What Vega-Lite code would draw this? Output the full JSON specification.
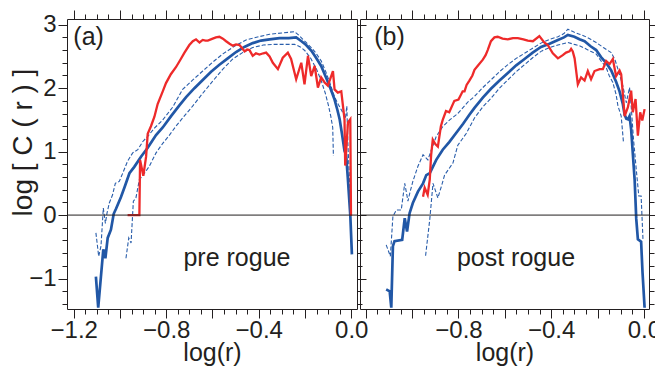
{
  "$schema": "https://vega.github.io/schema/vega-lite/v6.json",
  "background": "white",
  "padding": {"left": 8, "top": 9, "right": 0, "bottom": 0},
  "bounds": "flush",
  "spacing": 3,
  "config": {
    "font": "Liberation Sans",
    "view": {"stroke": "#231f20", "strokeWidth": 1},
    "axis": {"domain": false, "grid": false, "labelFont": "Liberation Sans", "labelFontSize": 24, "labelColor": "#231f20", "tickColor": "#231f20", "tickWidth": 1, "titleFont": "Liberation Sans", "titleFontSize": 25, "titleFontWeight": "normal", "titleColor": "#231f20", "labelOverlap": false, "labelFlush": false, "labelPadding": 2}
  },
  "datasets": {
    "a": [
      {"s":"lo","x":-0.974,"y":-0.68},{"s":"lo","x":-0.962,"y":-0.36},{"s":"lo","x":-0.952,"y":-0.44},{"s":"lo","x":-0.942,"y":0.22},{"s":"lo","x":-0.931,"y":0.27},{"s":"lo","x":-0.916,"y":0.56},{"s":"lo","x":-0.894,"y":0.66},{"s":"lo","x":-0.873,"y":0.77},{"s":"lo","x":-0.844,"y":0.98},{"s":"lo","x":-0.815,"y":1.13},{"s":"lo","x":-0.786,"y":1.26},{"s":"lo","x":-0.758,"y":1.4},{"s":"lo","x":-0.729,"y":1.53},{"s":"lo","x":-0.685,"y":1.72},{"s":"lo","x":-0.642,"y":1.92},{"s":"lo","x":-0.599,"y":2.11},{"s":"lo","x":-0.555,"y":2.3},{"s":"lo","x":-0.512,"y":2.46},{"s":"lo","x":-0.47,"y":2.56},{"s":"lo","x":-0.426,"y":2.64},{"s":"lo","x":-0.38,"y":2.68},{"s":"lo","x":-0.339,"y":2.69},{"s":"lo","x":-0.29,"y":2.69},{"s":"lo","x":-0.245,"y":2.69},{"s":"lo","x":-0.22,"y":2.65},{"s":"lo","x":-0.2,"y":2.59},{"s":"lo","x":-0.175,"y":2.47},{"s":"lo","x":-0.15,"y":2.3},{"s":"lo","x":-0.13,"y":2.12},{"s":"lo","x":-0.112,"y":1.92},{"s":"lo","x":-0.098,"y":1.72},{"s":"lo","x":-0.088,"y":1.55},{"s":"lo","x":-0.08,"y":1.38},{"s":"lo","x":-0.077,"y":0.93},
      {"s":"hi","x":-1.104,"y":-0.28},{"s":"hi","x":-1.092,"y":-0.65},{"s":"hi","x":-1.082,"y":-0.49},{"s":"hi","x":-1.072,"y":0.11},{"s":"hi","x":-1.063,"y":-0.13},{"s":"hi","x":-1.056,"y":0.03},{"s":"hi","x":-1.046,"y":0.19},{"s":"hi","x":-1.032,"y":0.32},{"s":"hi","x":-1.02,"y":0.5},{"s":"hi","x":-1.003,"y":0.53},{"s":"hi","x":-0.988,"y":0.66},{"s":"hi","x":-0.967,"y":0.85},{"s":"hi","x":-0.945,"y":0.98},{"s":"hi","x":-0.923,"y":1.03},{"s":"hi","x":-0.901,"y":1.16},{"s":"hi","x":-0.88,"y":1.24},{"s":"hi","x":-0.851,"y":1.37},{"s":"hi","x":-0.815,"y":1.5},{"s":"hi","x":-0.772,"y":1.7},{"s":"hi","x":-0.729,"y":1.98},{"s":"hi","x":-0.685,"y":2.13},{"s":"hi","x":-0.642,"y":2.27},{"s":"hi","x":-0.599,"y":2.41},{"s":"hi","x":-0.555,"y":2.54},{"s":"hi","x":-0.505,"y":2.66},{"s":"hi","x":-0.455,"y":2.76},{"s":"hi","x":-0.4,"y":2.81},{"s":"hi","x":-0.353,"y":2.85},{"s":"hi","x":-0.3,"y":2.87},{"s":"hi","x":-0.245,"y":2.89},{"s":"hi","x":-0.225,"y":2.83},{"s":"hi","x":-0.209,"y":2.77},{"s":"hi","x":-0.195,"y":2.72},{"s":"hi","x":-0.17,"y":2.63},{"s":"hi","x":-0.152,"y":2.55},{"s":"hi","x":-0.13,"y":2.43},{"s":"hi","x":-0.11,"y":2.26},{"s":"hi","x":-0.091,"y":2.07},{"s":"hi","x":-0.072,"y":1.86},{"s":"hi","x":-0.055,"y":1.74},{"s":"hi","x":-0.04,"y":1.64},{"s":"hi","x":-0.025,"y":1.52},{"s":"hi","x":-0.019,"y":1.72},{"s":"hi","x":-0.014,"y":1.09},{"s":"hi","x":-0.008,"y":0.6},{"s":"hi","x":-0.002,"y":0.0},
      {"s":"m","x":-1.104,"y":-0.97},{"s":"m","x":-1.094,"y":-1.46},{"s":"m","x":-1.072,"y":-0.54},{"s":"m","x":-1.063,"y":-0.68},{"s":"m","x":-1.053,"y":-0.36},{"s":"m","x":-1.039,"y":-0.23},{"s":"m","x":-1.027,"y":0.02},{"s":"m","x":-1.017,"y":0.1},{"s":"m","x":-0.996,"y":0.28},{"s":"m","x":-0.981,"y":0.43},{"s":"m","x":-0.959,"y":0.66},{"s":"m","x":-0.938,"y":0.76},{"s":"m","x":-0.909,"y":0.92},{"s":"m","x":-0.88,"y":1.06},{"s":"m","x":-0.844,"y":1.26},{"s":"m","x":-0.815,"y":1.38},{"s":"m","x":-0.779,"y":1.56},{"s":"m","x":-0.743,"y":1.73},{"s":"m","x":-0.714,"y":1.86},{"s":"m","x":-0.678,"y":2.0},{"s":"m","x":-0.642,"y":2.13},{"s":"m","x":-0.606,"y":2.26},{"s":"m","x":-0.57,"y":2.37},{"s":"m","x":-0.534,"y":2.47},{"s":"m","x":-0.498,"y":2.57},{"s":"m","x":-0.462,"y":2.65},{"s":"m","x":-0.426,"y":2.71},{"s":"m","x":-0.39,"y":2.75},{"s":"m","x":-0.353,"y":2.77},{"s":"m","x":-0.31,"y":2.79},{"s":"m","x":-0.27,"y":2.79},{"s":"m","x":-0.238,"y":2.8},{"s":"m","x":-0.215,"y":2.74},{"s":"m","x":-0.195,"y":2.68},{"s":"m","x":-0.172,"y":2.59},{"s":"m","x":-0.152,"y":2.48},{"s":"m","x":-0.13,"y":2.35},{"s":"m","x":-0.108,"y":2.16},{"s":"m","x":-0.09,"y":2.0},{"s":"m","x":-0.072,"y":1.82},{"s":"m","x":-0.06,"y":1.66},{"s":"m","x":-0.05,"y":1.51},{"s":"m","x":-0.04,"y":1.28},{"s":"m","x":-0.029,"y":1.01},{"s":"m","x":-0.022,"y":0.95},{"s":"m","x":-0.015,"y":0.6},{"s":"m","x":-0.004,"y":0.0},{"s":"m","x":0.003,"y":-0.62},
      {"s":"r","x":-0.967,"y":0.0},{"s":"r","x":-0.916,"y":0.0},{"s":"r","x":-0.913,"y":0.87},{"s":"r","x":-0.899,"y":0.62},{"s":"r","x":-0.887,"y":0.92},{"s":"r","x":-0.88,"y":1.28},{"s":"r","x":-0.866,"y":1.4},{"s":"r","x":-0.851,"y":1.55},{"s":"r","x":-0.837,"y":1.75},{"s":"r","x":-0.815,"y":1.95},{"s":"r","x":-0.801,"y":2.08},{"s":"r","x":-0.78,"y":2.22},{"s":"r","x":-0.758,"y":2.33},{"s":"r","x":-0.74,"y":2.44},{"s":"r","x":-0.721,"y":2.56},{"s":"r","x":-0.7,"y":2.68},{"s":"r","x":-0.685,"y":2.74},{"s":"r","x":-0.671,"y":2.77},{"s":"r","x":-0.656,"y":2.72},{"s":"r","x":-0.642,"y":2.76},{"s":"r","x":-0.63,"y":2.75},{"s":"r","x":-0.62,"y":2.75},{"s":"r","x":-0.599,"y":2.78},{"s":"r","x":-0.585,"y":2.8},{"s":"r","x":-0.57,"y":2.81},{"s":"r","x":-0.555,"y":2.78},{"s":"r","x":-0.541,"y":2.74},{"s":"r","x":-0.526,"y":2.7},{"s":"r","x":-0.512,"y":2.67},{"s":"r","x":-0.498,"y":2.69},{"s":"r","x":-0.483,"y":2.68},{"s":"r","x":-0.47,"y":2.62},{"s":"r","x":-0.461,"y":2.58},{"s":"r","x":-0.45,"y":2.61},{"s":"r","x":-0.44,"y":2.6},{"s":"r","x":-0.426,"y":2.51},{"s":"r","x":-0.412,"y":2.55},{"s":"r","x":-0.397,"y":2.53},{"s":"r","x":-0.38,"y":2.55},{"s":"r","x":-0.368,"y":2.56},{"s":"r","x":-0.353,"y":2.5},{"s":"r","x":-0.339,"y":2.4},{"s":"r","x":-0.317,"y":2.3},{"s":"r","x":-0.296,"y":2.48},{"s":"r","x":-0.274,"y":2.56},{"s":"r","x":-0.26,"y":2.46},{"s":"r","x":-0.238,"y":2.14},{"s":"r","x":-0.216,"y":2.4},{"s":"r","x":-0.202,"y":2.06},{"s":"r","x":-0.187,"y":2.51},{"s":"r","x":-0.173,"y":2.19},{"s":"r","x":-0.158,"y":2.35},{"s":"r","x":-0.144,"y":2.01},{"s":"r","x":-0.13,"y":2.17},{"s":"r","x":-0.115,"y":2.09},{"s":"r","x":-0.101,"y":2.04},{"s":"r","x":-0.079,"y":2.27},{"s":"r","x":-0.072,"y":1.98},{"s":"r","x":-0.058,"y":1.93},{"s":"r","x":-0.043,"y":1.95},{"s":"r","x":-0.029,"y":1.51},{"s":"r","x":-0.026,"y":0.78},{"s":"r","x":-0.014,"y":1.46},{"s":"r","x":-0.004,"y":1.51},{"s":"r","x":-0.001,"y":-0.01}
    ],
    "b": [
      {"s":"lo","x":-0.942,"y":-0.64},{"s":"lo","x":-0.924,"y":-0.07},{"s":"lo","x":-0.91,"y":0.5},{"s":"lo","x":-0.889,"y":0.27},{"s":"lo","x":-0.874,"y":0.45},{"s":"lo","x":-0.86,"y":0.63},{"s":"lo","x":-0.845,"y":0.71},{"s":"lo","x":-0.824,"y":0.82},{"s":"lo","x":-0.803,"y":1.1},{"s":"lo","x":-0.766,"y":1.29},{"s":"lo","x":-0.731,"y":1.53},{"s":"lo","x":-0.694,"y":1.71},{"s":"lo","x":-0.66,"y":1.84},{"s":"lo","x":-0.623,"y":2.0},{"s":"lo","x":-0.587,"y":2.13},{"s":"lo","x":-0.551,"y":2.26},{"s":"lo","x":-0.515,"y":2.37},{"s":"lo","x":-0.48,"y":2.48},{"s":"lo","x":-0.444,"y":2.58},{"s":"lo","x":-0.407,"y":2.64},{"s":"lo","x":-0.371,"y":2.68},{"s":"lo","x":-0.328,"y":2.72},{"s":"lo","x":-0.3,"y":2.69},{"s":"lo","x":-0.278,"y":2.67},{"s":"lo","x":-0.256,"y":2.63},{"s":"lo","x":-0.23,"y":2.58},{"s":"lo","x":-0.206,"y":2.54},{"s":"lo","x":-0.185,"y":2.43},{"s":"lo","x":-0.163,"y":2.33},{"s":"lo","x":-0.15,"y":2.2},{"s":"lo","x":-0.134,"y":2.09},{"s":"lo","x":-0.12,"y":1.9},{"s":"lo","x":-0.112,"y":1.72},{"s":"lo","x":-0.098,"y":1.56},{"s":"lo","x":-0.088,"y":1.14},
      {"s":"hi","x":-1.112,"y":-0.47},{"s":"hi","x":-1.094,"y":-0.65},{"s":"hi","x":-1.083,"y":-0.02},{"s":"hi","x":-1.068,"y":0.08},{"s":"hi","x":-1.047,"y":0.08},{"s":"hi","x":-1.032,"y":0.5},{"s":"hi","x":-1.018,"y":0.22},{"s":"hi","x":-1.01,"y":0.35},{"s":"hi","x":-0.997,"y":0.53},{"s":"hi","x":-0.975,"y":0.77},{"s":"hi","x":-0.953,"y":0.95},{"s":"hi","x":-0.932,"y":0.87},{"s":"hi","x":-0.917,"y":1.03},{"s":"hi","x":-0.896,"y":1.24},{"s":"hi","x":-0.867,"y":1.4},{"s":"hi","x":-0.838,"y":1.5},{"s":"hi","x":-0.803,"y":1.6},{"s":"hi","x":-0.76,"y":1.78},{"s":"hi","x":-0.731,"y":1.87},{"s":"hi","x":-0.695,"y":2.01},{"s":"hi","x":-0.66,"y":2.13},{"s":"hi","x":-0.623,"y":2.26},{"s":"hi","x":-0.587,"y":2.37},{"s":"hi","x":-0.551,"y":2.47},{"s":"hi","x":-0.515,"y":2.55},{"s":"hi","x":-0.48,"y":2.63},{"s":"hi","x":-0.444,"y":2.71},{"s":"hi","x":-0.407,"y":2.77},{"s":"hi","x":-0.371,"y":2.81},{"s":"hi","x":-0.345,"y":2.86},{"s":"hi","x":-0.328,"y":2.93},{"s":"hi","x":-0.3,"y":2.88},{"s":"hi","x":-0.278,"y":2.85},{"s":"hi","x":-0.256,"y":2.82},{"s":"hi","x":-0.23,"y":2.77},{"s":"hi","x":-0.206,"y":2.72},{"s":"hi","x":-0.175,"y":2.64},{"s":"hi","x":-0.141,"y":2.56},{"s":"hi","x":-0.125,"y":2.45},{"s":"hi","x":-0.112,"y":2.3},{"s":"hi","x":-0.091,"y":2.04},{"s":"hi","x":-0.076,"y":1.77},{"s":"hi","x":-0.062,"y":2.01},{"s":"hi","x":-0.055,"y":1.72},{"s":"hi","x":-0.045,"y":1.2},{"s":"hi","x":-0.033,"y":0.72},{"s":"hi","x":-0.022,"y":0.3},{"s":"hi","x":-0.012,"y":0.3},{"s":"hi","x":-0.004,"y":-0.38},
      {"s":"m","x":-1.112,"y":-1.17},{"s":"m","x":-1.097,"y":-1.2},{"s":"m","x":-1.09,"y":-1.46},{"s":"m","x":-1.083,"y":-0.49},{"s":"m","x":-1.076,"y":-0.41},{"s":"m","x":-1.043,"y":-0.39},{"s":"m","x":-1.032,"y":-0.05},{"s":"m","x":-1.022,"y":-0.26},{"s":"m","x":-1.011,"y":0.03},{"s":"m","x":-0.997,"y":0.19},{"s":"m","x":-0.975,"y":0.37},{"s":"m","x":-0.953,"y":0.5},{"s":"m","x":-0.939,"y":0.63},{"s":"m","x":-0.924,"y":0.66},{"s":"m","x":-0.896,"y":0.87},{"s":"m","x":-0.868,"y":1.03},{"s":"m","x":-0.84,"y":1.15},{"s":"m","x":-0.811,"y":1.29},{"s":"m","x":-0.78,"y":1.44},{"s":"m","x":-0.753,"y":1.58},{"s":"m","x":-0.731,"y":1.69},{"s":"m","x":-0.695,"y":1.85},{"s":"m","x":-0.66,"y":1.99},{"s":"m","x":-0.623,"y":2.12},{"s":"m","x":-0.587,"y":2.24},{"s":"m","x":-0.551,"y":2.36},{"s":"m","x":-0.515,"y":2.46},{"s":"m","x":-0.48,"y":2.56},{"s":"m","x":-0.444,"y":2.65},{"s":"m","x":-0.407,"y":2.7},{"s":"m","x":-0.371,"y":2.76},{"s":"m","x":-0.345,"y":2.8},{"s":"m","x":-0.328,"y":2.84},{"s":"m","x":-0.3,"y":2.81},{"s":"m","x":-0.278,"y":2.77},{"s":"m","x":-0.256,"y":2.74},{"s":"m","x":-0.23,"y":2.66},{"s":"m","x":-0.206,"y":2.6},{"s":"m","x":-0.185,"y":2.49},{"s":"m","x":-0.163,"y":2.4},{"s":"m","x":-0.141,"y":2.28},{"s":"m","x":-0.12,"y":2.1},{"s":"m","x":-0.105,"y":1.95},{"s":"m","x":-0.091,"y":1.75},{"s":"m","x":-0.083,"y":1.58},{"s":"m","x":-0.076,"y":1.52},{"s":"m","x":-0.069,"y":1.51},{"s":"m","x":-0.062,"y":1.56},{"s":"m","x":-0.055,"y":1.35},{"s":"m","x":-0.048,"y":0.98},{"s":"m","x":-0.04,"y":0.56},{"s":"m","x":-0.033,"y":-0.06},{"s":"m","x":-0.026,"y":-0.38},{"s":"m","x":-0.012,"y":-0.42},{"s":"m","x":-0.006,"y":-0.9},{"s":"m","x":0.003,"y":-1.46},
      {"s":"r","x":-0.953,"y":0.29},{"s":"r","x":-0.946,"y":0.43},{"s":"r","x":-0.933,"y":0.32},{"s":"r","x":-0.924,"y":0.56},{"s":"r","x":-0.918,"y":0.95},{"s":"r","x":-0.911,"y":1.19},{"s":"r","x":-0.9,"y":1.12},{"s":"r","x":-0.889,"y":1.08},{"s":"r","x":-0.876,"y":1.4},{"s":"r","x":-0.868,"y":1.5},{"s":"r","x":-0.854,"y":1.64},{"s":"r","x":-0.84,"y":1.62},{"s":"r","x":-0.818,"y":1.8},{"s":"r","x":-0.8,"y":1.82},{"s":"r","x":-0.782,"y":1.95},{"s":"r","x":-0.774,"y":1.95},{"s":"r","x":-0.765,"y":2.05},{"s":"r","x":-0.753,"y":2.12},{"s":"r","x":-0.74,"y":2.2},{"s":"r","x":-0.731,"y":2.29},{"s":"r","x":-0.715,"y":2.36},{"s":"r","x":-0.695,"y":2.45},{"s":"r","x":-0.683,"y":2.52},{"s":"r","x":-0.674,"y":2.6},{"s":"r","x":-0.66,"y":2.74},{"s":"r","x":-0.645,"y":2.8},{"s":"r","x":-0.631,"y":2.81},{"s":"r","x":-0.61,"y":2.78},{"s":"r","x":-0.587,"y":2.77},{"s":"r","x":-0.565,"y":2.79},{"s":"r","x":-0.544,"y":2.79},{"s":"r","x":-0.52,"y":2.77},{"s":"r","x":-0.501,"y":2.75},{"s":"r","x":-0.479,"y":2.74},{"s":"r","x":-0.451,"y":2.82},{"s":"r","x":-0.43,"y":2.72},{"s":"r","x":-0.415,"y":2.68},{"s":"r","x":-0.393,"y":2.55},{"s":"r","x":-0.371,"y":2.47},{"s":"r","x":-0.35,"y":2.52},{"s":"r","x":-0.336,"y":2.56},{"s":"r","x":-0.321,"y":2.58},{"s":"r","x":-0.314,"y":2.62},{"s":"r","x":-0.307,"y":2.58},{"s":"r","x":-0.299,"y":2.47},{"s":"r","x":-0.285,"y":2.06},{"s":"r","x":-0.271,"y":2.17},{"s":"r","x":-0.256,"y":2.12},{"s":"r","x":-0.242,"y":2.27},{"s":"r","x":-0.228,"y":2.14},{"s":"r","x":-0.213,"y":2.27},{"s":"r","x":-0.191,"y":2.3},{"s":"r","x":-0.177,"y":2.3},{"s":"r","x":-0.163,"y":2.43},{"s":"r","x":-0.148,"y":2.38},{"s":"r","x":-0.134,"y":2.46},{"s":"r","x":-0.12,"y":2.19},{"s":"r","x":-0.105,"y":2.28},{"s":"r","x":-0.098,"y":2.22},{"s":"r","x":-0.083,"y":1.56},{"s":"r","x":-0.069,"y":1.7},{"s":"r","x":-0.055,"y":1.96},{"s":"r","x":-0.048,"y":1.62},{"s":"r","x":-0.036,"y":1.83},{"s":"r","x":-0.026,"y":1.25},{"s":"r","x":-0.016,"y":1.62},{"s":"r","x":-0.007,"y":1.49},{"s":"r","x":0.003,"y":1.67}
    ],
    "ta": [{"x":-1.1355,"y":2.68,"t":"(a)"},{"x":-0.494,"y":-0.81,"t":"pre rogue"}],
    "tb": [{"x":-1.098,"y":2.68,"t":"(b)"},{"x":-0.552,"y":-0.81,"t":"post rogue"}],
    "za": [{"x0":-1.229,"x1":0.025,"z":0}],
    "zb": [{"x0":-1.225,"x1":0.022,"z":0}]
  },
  "hconcat": [
    {
      "width": 290, "height": 290,
      "data": {"name": "a"},
      "resolve": {"axis": {"x": "independent", "y": "independent"}},
      "layer": [
        {
          "transform": [{"filter": "datum.s == 'lo'"}],
          "mark": {"type": "line", "clip": true, "color": "#2a5eab", "strokeWidth": 1.1, "strokeDash": [4, 2]},
          "encoding": {
            "x": {"field": "x", "type": "quantitative", "scale": {"domain": [-1.229, 0.025], "nice": false, "zero": false},
              "axis": {"orient": "bottom", "title": "log(r)", "titlePadding": -2, "labelPadding": 0,
                "values": [-1.2,-1.15,-1.1,-1.05,-1.0,-0.95,-0.9,-0.85,-0.8,-0.75,-0.7,-0.65,-0.6,-0.55,-0.5,-0.45,-0.4,-0.35,-0.3,-0.25,-0.2,-0.15,-0.1,-0.05,0],
                "labelExpr": "abs(round(datum.value*20)) % 8 == 0 ? format(datum.value, '.1f') : ''",
                "tickSize": {"condition": {"test": "abs(round(datum.value*20)) % 4 == 0", "value": 9}, "value": 5}}},
            "y": {"field": "y", "type": "quantitative", "scale": {"domain": [-1.48, 3.09], "nice": false, "zero": false},
              "axis": {"orient": "left", "title": "log [ C ( r ) ]", "titleFontSize": 28, "titleX": -44, "titleY": 123, "titleAngle": -90, "titleAlign": "center", "titleBaseline": "middle",
                "values": [-1.4,-1.2,-1.0,-0.8,-0.6,-0.4,-0.2,0,0.2,0.4,0.6,0.8,1.0,1.2,1.4,1.6,1.8,2.0,2.2,2.4,2.6,2.8,3.0],
                "labelExpr": "abs(round(datum.value*5)) % 5 == 0 ? format(datum.value, 'd') : ''",
                "tickSize": {"condition": {"test": "abs(round(datum.value*5)) % 5 == 0", "value": 9}, "value": 5}}}
          }
        },
        {
          "transform": [{"filter": "datum.s == 'hi'"}],
          "mark": {"type": "line", "clip": true, "color": "#2a5eab", "strokeWidth": 1.1, "strokeDash": [4, 2]},
          "encoding": {
            "x": {"field": "x", "type": "quantitative", "scale": {"domain": [-1.229, 0.025], "nice": false, "zero": false}, "axis": null},
            "y": {"field": "y", "type": "quantitative", "scale": {"domain": [-1.48, 3.09], "nice": false, "zero": false}, "axis": null}
          }
        },
        {
          "transform": [{"filter": "datum.s == 'm'"}],
          "mark": {"type": "line", "clip": true, "color": "#2157a6", "strokeWidth": 2.7},
          "encoding": {
            "x": {"field": "x", "type": "quantitative", "scale": {"domain": [-1.229, 0.025], "nice": false, "zero": false}, "axis": null},
            "y": {"field": "y", "type": "quantitative", "scale": {"domain": [-1.48, 3.09], "nice": false, "zero": false}, "axis": null}
          }
        },
        {
          "transform": [{"filter": "datum.s == 'r'"}],
          "mark": {"type": "line", "clip": true, "color": "#ee2a2a", "strokeWidth": 2.3},
          "encoding": {
            "x": {"field": "x", "type": "quantitative", "scale": {"domain": [-1.229, 0.025], "nice": false, "zero": false}, "axis": null},
            "y": {"field": "y", "type": "quantitative", "scale": {"domain": [-1.48, 3.09], "nice": false, "zero": false}, "axis": null}
          }
        },
        {
          "data": {"name": "za"},
          "mark": {"type": "rule", "color": "#231f20", "strokeWidth": 1},
          "encoding": {
            "x": {"field": "x0", "type": "quantitative", "scale": {"domain": [-1.229, 0.025], "nice": false, "zero": false},
              "axis": {"orient": "top", "title": null, "labels": false, "ticks": true, "zindex": 2, "tickOpacity": 1,
                "values": [-1.2,-1.15,-1.1,-1.05,-1.0,-0.95,-0.9,-0.85,-0.8,-0.75,-0.7,-0.65,-0.6,-0.55,-0.5,-0.45,-0.4,-0.35,-0.3,-0.25,-0.2,-0.15,-0.1,-0.05,0],
                "tickSize": {"condition": {"test": "abs(round(datum.value*20)) % 4 == 0", "value": 9}, "value": 5}}},
            "x2": {"field": "x1"},
            "y": {"field": "z", "type": "quantitative", "scale": {"domain": [-1.48, 3.09], "nice": false, "zero": false},
              "axis": {"orient": "right", "title": null, "labels": false,
                "values": [-1.4,-1.2,-1.0,-0.8,-0.6,-0.4,-0.2,0,0.2,0.4,0.6,0.8,1.0,1.2,1.4,1.6,1.8,2.0,2.2,2.4,2.6,2.8,3.0],
                "tickSize": {"condition": {"test": "abs(round(datum.value*5)) % 5 == 0", "value": 9}, "value": 5}}}
          }
        },
        {
          "data": {"name": "ta"},
          "mark": {"type": "text", "fontSize": 25, "font": "Liberation Sans", "color": "#231f20", "align": "center", "baseline": "alphabetic"},
          "encoding": {
            "text": {"field": "t"},
            "x": {"field": "x", "type": "quantitative", "scale": {"domain": [-1.229, 0.025], "nice": false, "zero": false}, "axis": null},
            "y": {"field": "y", "type": "quantitative", "scale": {"domain": [-1.48, 3.09], "nice": false, "zero": false}, "axis": null}
          }
        }
      ]
    },
    {
      "width": 289, "height": 290,
      "data": {"name": "b"},
      "resolve": {"axis": {"x": "independent", "y": "independent"}},
      "layer": [
        {
          "transform": [{"filter": "datum.s == 'lo'"}],
          "mark": {"type": "line", "clip": true, "color": "#2a5eab", "strokeWidth": 1.1, "strokeDash": [4, 2]},
          "encoding": {
            "x": {"field": "x", "type": "quantitative", "scale": {"domain": [-1.225, 0.022], "nice": false, "zero": false},
              "axis": {"orient": "bottom", "title": "log(r)", "titlePadding": -2, "labelPadding": 0,
                "values": [-1.2,-1.15,-1.1,-1.05,-1.0,-0.95,-0.9,-0.85,-0.8,-0.75,-0.7,-0.65,-0.6,-0.55,-0.5,-0.45,-0.4,-0.35,-0.3,-0.25,-0.2,-0.15,-0.1,-0.05,0],
                "labelExpr": "abs(round(datum.value*20)) % 8 == 0 && datum.value > -1.1 ? format(datum.value, '.1f') : ''",
                "tickSize": {"condition": {"test": "abs(round(datum.value*20)) % 4 == 0", "value": 9}, "value": 5}}},
            "y": {"field": "y", "type": "quantitative", "scale": {"domain": [-1.48, 3.09], "nice": false, "zero": false}, "axis": null}
          }
        },
        {
          "transform": [{"filter": "datum.s == 'hi'"}],
          "mark": {"type": "line", "clip": true, "color": "#2a5eab", "strokeWidth": 1.1, "strokeDash": [4, 2]},
          "encoding": {
            "x": {"field": "x", "type": "quantitative", "scale": {"domain": [-1.225, 0.022], "nice": false, "zero": false}, "axis": null},
            "y": {"field": "y", "type": "quantitative", "scale": {"domain": [-1.48, 3.09], "nice": false, "zero": false}, "axis": null}
          }
        },
        {
          "transform": [{"filter": "datum.s == 'm'"}],
          "mark": {"type": "line", "clip": true, "color": "#2157a6", "strokeWidth": 2.7},
          "encoding": {
            "x": {"field": "x", "type": "quantitative", "scale": {"domain": [-1.225, 0.022], "nice": false, "zero": false}, "axis": null},
            "y": {"field": "y", "type": "quantitative", "scale": {"domain": [-1.48, 3.09], "nice": false, "zero": false}, "axis": null}
          }
        },
        {
          "transform": [{"filter": "datum.s == 'r'"}],
          "mark": {"type": "line", "clip": true, "color": "#ee2a2a", "strokeWidth": 2.3},
          "encoding": {
            "x": {"field": "x", "type": "quantitative", "scale": {"domain": [-1.225, 0.022], "nice": false, "zero": false}, "axis": null},
            "y": {"field": "y", "type": "quantitative", "scale": {"domain": [-1.48, 3.09], "nice": false, "zero": false}, "axis": null}
          }
        },
        {
          "data": {"name": "zb"},
          "mark": {"type": "rule", "color": "#231f20", "strokeWidth": 1},
          "encoding": {
            "x": {"field": "x0", "type": "quantitative", "scale": {"domain": [-1.225, 0.022], "nice": false, "zero": false},
              "axis": {"orient": "top", "title": null, "labels": false, "ticks": true, "zindex": 2, "tickOpacity": 1,
                "values": [-1.2,-1.15,-1.1,-1.05,-1.0,-0.95,-0.9,-0.85,-0.8,-0.75,-0.7,-0.65,-0.6,-0.55,-0.5,-0.45,-0.4,-0.35,-0.3,-0.25,-0.2,-0.15,-0.1,-0.05,0],
                "tickSize": {"condition": {"test": "abs(round(datum.value*20)) % 4 == 0", "value": 9}, "value": 5}}},
            "x2": {"field": "x1"},
            "y": {"field": "z", "type": "quantitative", "scale": {"domain": [-1.48, 3.09], "nice": false, "zero": false},
              "axis": {"orient": "right", "title": null, "labels": false,
                "values": [-1.4,-1.2,-1.0,-0.8,-0.6,-0.4,-0.2,0,0.2,0.4,0.6,0.8,1.0,1.2,1.4,1.6,1.8,2.0,2.2,2.4,2.6,2.8,3.0],
                "tickSize": {"condition": {"test": "abs(round(datum.value*5)) % 5 == 0", "value": 9}, "value": 5}}}
          }
        },
        {
          "data": {"name": "tb"},
          "mark": {"type": "text", "fontSize": 25, "font": "Liberation Sans", "color": "#231f20", "align": "center", "baseline": "alphabetic"},
          "encoding": {
            "text": {"field": "t"},
            "x": {"field": "x", "type": "quantitative", "scale": {"domain": [-1.225, 0.022], "nice": false, "zero": false}, "axis": null},
            "y": {"field": "y", "type": "quantitative", "scale": {"domain": [-1.48, 3.09], "nice": false, "zero": false}, "axis": null}
          }
        }
      ]
    }
  ]
}
